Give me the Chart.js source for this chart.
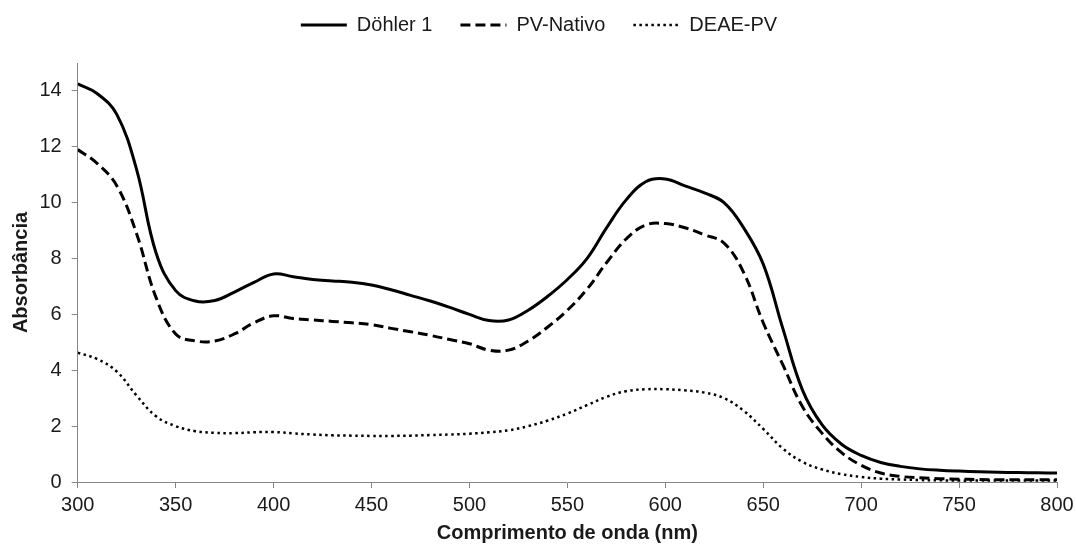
<!DOCTYPE html>
<html>
<head>
<meta charset="utf-8">
<script src="https://cdn.jsdelivr.net/npm/chart.js@4.4.1/dist/chart.umd.min.js"></script>
<style>
  html, body { margin: 0; padding: 0; background: #ffffff; }
  #wrap { width: 1076px; height: 547px; }
</style>
</head>
<body>
<div id="wrap"><canvas id="chart" width="1076" height="547"></canvas></div>
<script>
const wavelengths = [
  300, 310, 320, 330, 340, 350, 360, 370, 380, 390,
  400, 410, 420, 430, 440, 450, 460, 470, 480, 490,
  500, 510, 520, 530, 540, 550, 560, 570, 580, 590,
  600, 610, 620, 630, 640, 650, 660, 670, 680, 690,
  700, 710, 720, 730, 740, 750, 760, 770, 780, 790, 800
];

const dohler = [
  14.25, 13.9, 13.15, 11.2, 8.2, 6.85, 6.48, 6.5, 6.8, 7.15,
  7.45, 7.35, 7.25, 7.2, 7.15, 7.05, 6.88, 6.68, 6.48, 6.25,
  6.0, 5.78, 5.8, 6.15, 6.65, 7.25, 8.0, 9.1, 10.1, 10.75,
  10.85, 10.6, 10.35, 10.0, 9.1, 7.8, 5.5, 3.3, 2.05, 1.35,
  0.95, 0.7, 0.56, 0.47, 0.42, 0.39, 0.37, 0.35, 0.34, 0.33, 0.32
];

const pvNativo = [
  11.9, 11.4, 10.6, 8.9, 6.6, 5.3, 5.05, 5.05, 5.3, 5.7,
  5.95, 5.85, 5.8, 5.75, 5.7, 5.63, 5.5, 5.38, 5.25, 5.1,
  4.95, 4.72, 4.72, 5.05, 5.55, 6.15, 6.9, 7.85, 8.7, 9.2,
  9.25, 9.1, 8.85, 8.55, 7.5, 5.7, 4.2, 2.7, 1.75, 1.05,
  0.6, 0.32, 0.2, 0.15, 0.12, 0.1, 0.09, 0.08, 0.08, 0.08, 0.08
];

const deaePv = [
  4.63, 4.4, 3.95, 3.1, 2.35, 2.0, 1.82, 1.76, 1.75, 1.78,
  1.79, 1.74, 1.7, 1.67, 1.66, 1.65, 1.65, 1.66, 1.68, 1.7,
  1.73, 1.78, 1.85, 2.0, 2.2, 2.45, 2.75, 3.05, 3.25, 3.32,
  3.32, 3.28, 3.2, 3.0, 2.55, 1.9, 1.2, 0.72, 0.45, 0.28,
  0.18, 0.12, 0.09, 0.07, 0.06, 0.05, 0.05, 0.05, 0.05, 0.05, 0.05
];

const yTicks = [0, 2, 4, 6, 8, 10, 12, 14];

function toPoints(values) {
  return wavelengths.map((w, i) => ({ x: w, y: values[i] }));
}

const axisColor = "#868686";
const textColor = "#1a1a1a";
const fontFamily = "'Liberation Sans', Arial, sans-serif";

// extra room between legend and plot
const legendGap = {
  id: "legendGap",
  beforeInit(chart) {
    const fit = chart.legend.fit;
    chart.legend.fit = function () {
      fit.bind(chart.legend)();
      this.height += 18;
    };
  }
};

new Chart(document.getElementById("chart"), {
  type: "line",
  data: {
    datasets: [
      {
        label: "Döhler 1",
        data: toPoints(dohler),
        borderColor: "#000000",
        borderWidth: 3,
        pointRadius: 0,
        tension: 0.4
      },
      {
        label: "PV-Nativo",
        data: toPoints(pvNativo),
        borderColor: "#000000",
        borderWidth: 3,
        borderDash: [10, 5],
        pointRadius: 0,
        tension: 0.4
      },
      {
        label: "DEAE-PV",
        data: toPoints(deaePv),
        borderColor: "#000000",
        borderWidth: 2.5,
        borderDash: [2.5, 3.5],
        pointRadius: 0,
        tension: 0.4
      }
    ]
  },
  plugins: [legendGap],
  options: {
    responsive: false,
    animation: false,
    layout: {
      padding: { left: 2, right: 0, top: -13, bottom: 2 }
    },
    plugins: {
      tooltip: { enabled: false },
      legend: {
        position: "top",
        labels: {
          usePointStyle: true,
          pointStyle: "line",
          pointStyleWidth: 46,
          boxHeight: 10,
          padding: 28,
          color: textColor,
          font: { family: fontFamily, size: 20 },
          generateLabels: chart => {
            const items = Chart.defaults.plugins.legend.labels.generateLabels(chart);
            items.forEach(item => {
              const ds = chart.data.datasets[item.datasetIndex];
              item.lineDash = ds.borderDash || [];
              item.lineWidth = ds.borderWidth;
              item.strokeStyle = "#000000";
            });
            return items;
          }
        }
      }
    },
    scales: {
      x: {
        type: "linear",
        min: 300,
        max: 800,
        afterFit: scale => {
          scale.paddingRight = 19;
        },
        ticks: {
          stepSize: 50,
          color: textColor,
          font: { family: fontFamily, size: 20 },
          padding: 5
        },
        grid: {
          display: true,
          drawOnChartArea: false,
          drawTicks: true,
          tickLength: 6,
          color: axisColor
        },
        border: { color: axisColor, width: 1 },
        title: {
          display: true,
          text: "Comprimento de onda (nm)",
          color: textColor,
          font: { family: fontFamily, size: 20, weight: "bold" },
          padding: { top: -1, bottom: 0 }
        }
      },
      y: {
        min: 0,
        max: 15,
        afterBuildTicks: scale => {
          scale.ticks = yTicks.map(v => ({ value: v }));
        },
        ticks: {
          color: textColor,
          font: { family: fontFamily, size: 20 },
          padding: 10
        },
        grid: {
          display: true,
          drawOnChartArea: false,
          drawTicks: true,
          tickLength: 6,
          color: axisColor
        },
        border: { color: axisColor, width: 1 },
        title: {
          display: true,
          text: "Absorbância",
          color: textColor,
          font: { family: fontFamily, size: 20, weight: "bold" },
          padding: { top: 7.5, bottom: -4 }
        }
      }
    }
  }
});
</script>
</body>
</html>
